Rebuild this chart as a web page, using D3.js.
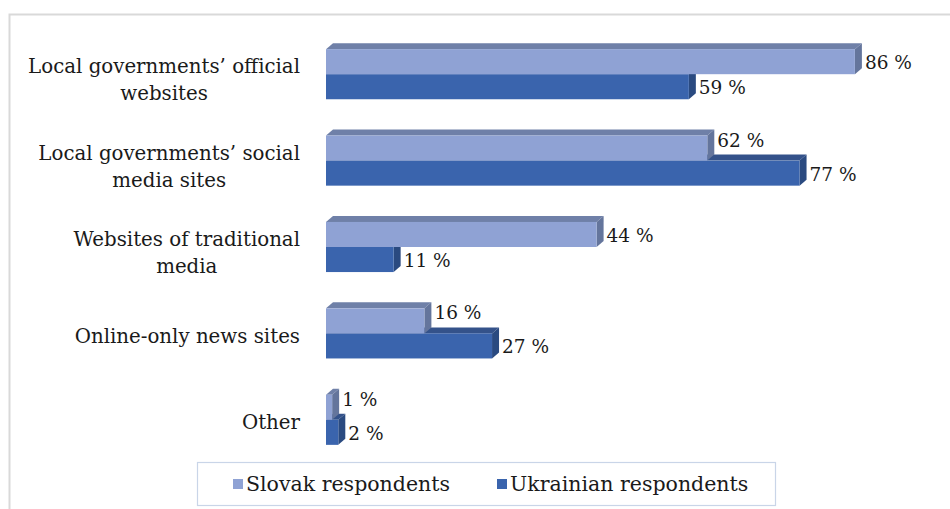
<!DOCTYPE html>
<html><head><meta charset="utf-8">
<script src="https://cdn.jsdelivr.net/npm/d3@7"></script>
<style>body{margin:0;background:#fff}svg{display:block}</style>
</head><body>
<script>
const categories = [
  ["Local governments’ official", "websites"],
  ["Local governments’ social", "media sites"],
  ["Websites of traditional", "media"],
  ["Online-only news sites"],
  ["Other"]
];
const slovak = [86, 62, 44, 16, 1];
const ukrainian = [59, 77, 11, 27, 2];
const seriesNames = ["Slovak respondents", "Ukrainian respondents"];

const W = 950, H = 509;
const font = "DejaVu Serif";
const svg = d3.select("body").append("svg").attr("width", W).attr("height", H);

// outer border
svg.append("rect").attr("x", 9.5).attr("y", 14.5).attr("width", 960).attr("height", 520)
  .attr("fill", "none").attr("stroke", "#d9d9d9").attr("stroke-width", 2);

const x = d3.scaleLinear().domain([0, 100]).range([326, 941]);
const y = d3.scaleBand().domain(d3.range(categories.length)).range([31, 463]).paddingInner(0.42).paddingOuter(0.21);
const dx = 7, dy = 6;

const colors = [
  {front: "#8fa2d4", top: "#6f80a8", side: "#64759c"},
  {front: "#3a64ad", top: "#34528a", side: "#2a4a80"}
];

const g = svg.append("g");
categories.forEach((cat, i) => {
  const y0 = y(i), bh = y.bandwidth() / 2;
  const vals = [slovak[i], ukrainian[i]];
  [1, 0].forEach(s => {
    const top = y0 + s * bh, bot = top + bh;
    const x0 = x(0), x1 = x(vals[s]);
    const c = colors[s];
    const bg = g.append("g");
    bg.append("path").attr("d", `M${x0},${top}L${x0 + dx},${top - dy}L${x1 + dx},${top - dy}L${x1},${top}Z`).attr("fill", c.top);
    bg.append("path").attr("d", `M${x1},${top}L${x1 + dx},${top - dy}L${x1 + dx},${bot - dy}L${x1},${bot}Z`).attr("fill", c.side);
    bg.append("rect").attr("x", x0).attr("y", top).attr("width", x1 - x0).attr("height", bh).attr("fill", c.front);
  });
  [0, 1].forEach(s => {
    const top = y0 + s * bh;
    let cy = top + bh / 2 + 1;
    if (s === 0 && ukrainian[i] > slovak[i]) cy -= 9;
    g.append("text").attr("x", x(vals[s]) + dx + 3).attr("y", cy)
      .attr("dominant-baseline", "central")
      .attr("font-family", font).attr("font-size", 18.5).attr("fill", "#1a1a1a")
      .text(vals[s] + " %");
  });
  const lt = g.append("text").attr("font-family", font).attr("font-size", 19.8).attr("fill", "#1a1a1a")
    .attr("text-anchor", "middle");
  const lh = 27;
  const cy = y0 + y.bandwidth() / 2 + 3 + 3 * (cat.length - 1);
  cat.forEach((line, k) => {
    lt.append("tspan").attr("y", cy + (k - (cat.length - 1) / 2) * lh).attr("dominant-baseline", "central").text(line);
  });
  let maxW = 0;
  lt.selectAll("tspan").each(function(){ maxW = Math.max(maxW, this.getComputedTextLength()); });
  lt.selectAll("tspan").attr("x", 300 - maxW / 2);
});

// legend
const lg = svg.append("g");
lg.append("rect").attr("x", 197.5).attr("y", 462.5).attr("width", 578).attr("height", 43)
  .attr("fill", "#fff").attr("stroke", "#c9d5e8").attr("stroke-width", 1.2);
const legX = [233, 497];
seriesNames.forEach((n, s) => {
  lg.append("rect").attr("x", legX[s]).attr("y", 479).attr("width", 10).attr("height", 10).attr("fill", colors[s].front);
  lg.append("text").attr("x", legX[s] + 13).attr("y", 484).attr("dominant-baseline", "central")
    .attr("font-family", font).attr("font-size", 20.5).attr("fill", "#1a1a1a").text(n);
});
</script>
</body></html>
